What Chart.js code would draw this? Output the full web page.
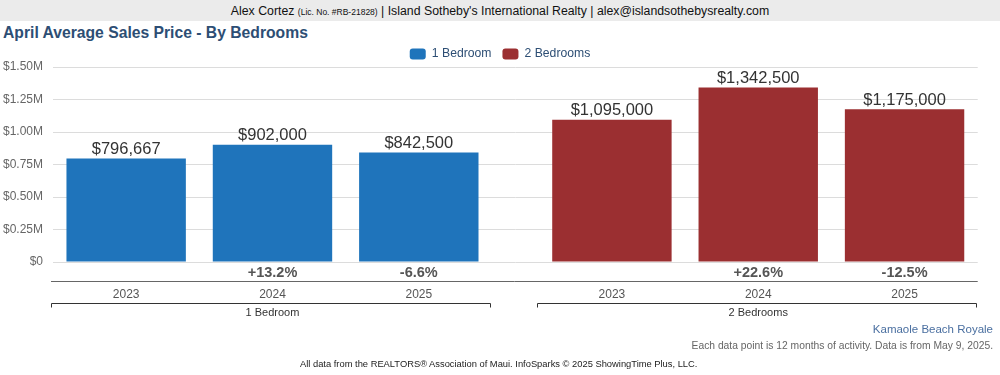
<!DOCTYPE html>
<html><head><meta charset="utf-8">
<script src="https://cdn.jsdelivr.net/npm/chart.js@4.4.0/dist/chart.umd.min.js"></script>
<style>
html,body{margin:0;padding:0;background:#fff;}
#wrap{position:relative;width:1000px;height:375px;overflow:hidden;font-family:"Liberation Sans",Arial,sans-serif;}
#hdr{position:absolute;left:0;top:0;width:1000px;height:21px;background:#ebebeb;text-align:center;line-height:22px;font-size:12.3px;color:#111;white-space:nowrap;}
#hdr small{font-size:8.5px;}
#ttl{position:absolute;left:3px;top:24px;font-size:15.7px;line-height:18px;font-weight:bold;color:#2d4e74;white-space:nowrap;}
canvas{position:absolute;left:0;top:0;}
.ft{position:absolute;white-space:nowrap;}
#f1{right:7px;top:322px;font-size:11.5px;line-height:14px;color:#4a6fa0;}
#f2{right:7px;top:339px;font-size:10.3px;line-height:13px;color:#666;}
#f3{left:300px;top:358px;font-size:9.35px;line-height:13px;color:#222;}
</style></head>
<body><div id="wrap">
<div id="hdr">Alex Cortez <small>(Lic. No. #RB-21828)</small> | Island Sotheby's International Realty | alex@islandsothebysrealty.com</div>
<div id="ttl">April Average Sales Price - By Bedrooms</div>
<canvas id="c" width="1000" height="375"></canvas>
<div class="ft" id="f1">Kamaole Beach Royale</div>
<div class="ft" id="f2">Each data point is 12 months of activity. Data is from May 9, 2025.</div>
<div class="ft" id="f3">All data from the REALTORS® Association of Maui. InfoSparks © 2025 ShowingTime Plus, LLC.</div>
</div>
<script>
const groups = ['1 Bedroom', '2 Bedrooms'];
const years = ['2023', '2024', '2025'];
const oneBedroom = [796667, 902000, 842500];
const twoBedrooms = [1095000, 1342500, 1175000];
const oneBedroomChange = ['', '+13.2%', '-6.6%'];
const twoBedroomsChange = ['', '+22.6%', '-12.5%'];
const yTickValues = [0, 250000, 500000, 750000, 1000000, 1250000, 1500000];

const BLUE = '#1f74bb';
const RED = '#9b2f31';
const FONT = '"Liberation Sans", Arial, sans-serif';
Chart.defaults.font.family = FONT;

const changes = [oneBedroomChange, twoBedroomsChange];

const annot = {
  id: 'annot',
  afterDraw(chart) {
    const ctx = chart.ctx;
    const ca = chart.chartArea;
    ctx.save();
    ctx.font = '16.5px ' + FONT;
    ctx.fillStyle = '#333';
    ctx.textAlign = 'center';
    ctx.textBaseline = 'bottom';
    chart.data.datasets.forEach((ds, di) => {
      const meta = chart.getDatasetMeta(di);
      meta.data.forEach((el, i) => {
        ctx.fillText('$' + ds.data[i].toLocaleString('en-US'), el.x, el.y - 1);
      });
    });
    ctx.font = 'bold 14.5px ' + FONT;
    ctx.fillStyle = '#555';
    ctx.textBaseline = 'middle';
    chart.data.datasets.forEach((ds, di) => {
      const meta = chart.getDatasetMeta(di);
      meta.data.forEach((el, i) => {
        ctx.fillText(changes[di][i], el.x, ca.bottom + 11);
      });
    });
    ctx.strokeStyle = '#666';
    ctx.lineWidth = 1;
    ctx.beginPath();
    ctx.moveTo(ca.left - 2, Math.round(ca.bottom + 19) + 0.5);
    ctx.lineTo(ca.right, Math.round(ca.bottom + 19) + 0.5);
    ctx.stroke();
    ctx.strokeStyle = '#333';
    ['x1', 'x2'].forEach(id => {
      const s = chart.scales[id];
      const y = Math.round(ca.bottom + 41) + 0.5;
      const l = Math.round(s.left) - 1.5, r = Math.round(s.right) - 1.5;
      ctx.beginPath();
      ctx.moveTo(l, y + 4);
      ctx.lineTo(l, y);
      ctx.lineTo(r, y);
      ctx.lineTo(r, y + 4);
      ctx.stroke();
    });
    ctx.restore();
  }
};

function xAxis(title) {
  return {
    type: 'category', labels: years, position: 'bottom', stack: 'grp', stackWeight: 1, offset: true,
    grid: { display: false, drawTicks: false }, border: { display: false },
    ticks: { padding: 25, color: '#555', font: { size: 12 } },
    title: { display: true, text: title, color: '#333', font: { size: 11 }, padding: { top: 4, bottom: 0 } },
    afterFit(s) { s.height = 58; }
  };
}

new Chart(document.getElementById('c'), {
  type: 'bar',
  data: {
    datasets: [
      { label: groups[0], data: oneBedroom, xAxisID: 'x1', grouped: false, backgroundColor: BLUE, borderWidth: 0, barPercentage: 0.816, categoryPercentage: 1 },
      { label: groups[1], data: twoBedrooms, xAxisID: 'x2', grouped: false, backgroundColor: RED, borderWidth: 0, barPercentage: 0.816, categoryPercentage: 1 }
    ]
  },
  options: {
    responsive: false, animation: false, devicePixelRatio: 1,
    layout: { padding: { top: 37, left: 0, right: 0, bottom: 55 } },
    plugins: {
      legend: {
        position: 'top', maxHeight: 30,
        labels: { boxWidth: 16, boxHeight: 11, useBorderRadius: true, borderRadius: 3, color: '#2d4e74', font: { size: 12.2 }, padding: 11 }
      },
      tooltip: { enabled: false }
    },
    scales: {
      x1: xAxis(groups[0]),
      xg: {
        type: 'category', labels: [''], position: 'bottom', stack: 'grp', stackWeight: 0.1066,
        grid: { display: false, drawTicks: false }, border: { display: false }, ticks: { display: false },
        afterFit(s) { s.height = 58; }
      },
      x2: xAxis(groups[1]),
      y: {
        min: 0, max: 1500000,
        afterBuildTicks(s) { s.ticks = yTickValues.map(v => ({ value: v })); },
        ticks: { padding: 10, color: '#666', font: { size: 12 }, callback: v => v === 0 ? '$0' : '$' + (v / 1e6).toFixed(2) + 'M' },
        grid: { color: '#dcdcdc', drawTicks: false }, border: { display: false },
        afterFit(s) { s.width = 53; }
      },
      yr: {
        type: 'linear', position: 'right', display: true, min: 0, max: 1,
        ticks: { display: false }, grid: { display: false, drawTicks: false }, border: { display: false },
        afterFit(s) { s.width = 18; }
      }
    }
  },
  plugins: [annot]
});
</script>
</body></html>
